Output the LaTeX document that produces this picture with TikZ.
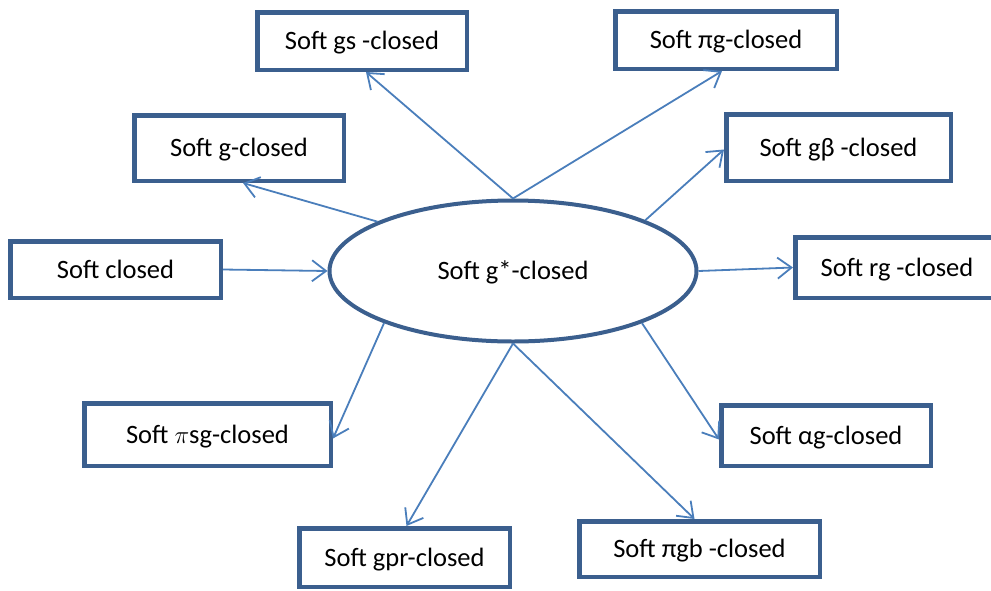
\documentclass[tikz,border=0pt]{standalone}
\usepackage{fontspec}
\setmainfont{Carlito}
\usetikzlibrary{arrows.meta,shapes.geometric}
\definecolor{boxblue}{HTML}{3B5F8E}
\definecolor{arrblue}{HTML}{4A7EBB}
\tikzset{
  bx/.style 2 args={draw=boxblue, line width=4.5pt, fill=white, inner sep=0pt,
    minimum width=#1, minimum height=#2, font=\fontsize{26.5}{30}\selectfont,
    text height=21pt, text depth=4pt},
  ell/.style={ellipse, draw=boxblue, line width=4pt, fill=white, inner sep=0pt,
    minimum width=367pt, minimum height=141pt, font=\fontsize{26.5}{30}\selectfont,
    text height=21pt, text depth=4pt},
  arr/.style={draw=arrblue, line width=1.8pt, -{Straight Barb[length=14pt,width=21pt,line width=1.8pt]}}
}
\begin{document}
\begin{tikzpicture}[x=1pt,y=-1pt]
\useasboundingbox (0,0) rectangle (991,590);
\node[ell] (c) at (513,271) {Soft g*-closed};
\node[bx={209.5pt}{57.5pt}] (gs) at (362,41) {Soft gs -closed};
\node[bx={221.5pt}{57.5pt}] (pig) at (726,40) {Soft πg-closed};
\node[bx={224.5pt}{66.5pt}] (gb) at (838.5,147.5) {Soft gβ -closed};
\node[bx={209.5pt}{65.5pt}] (g) at (239,148) {Soft g-closed};
\node[bx={210.5pt}{56.5pt}] (cl) at (115.5,269.5) {Soft closed};
\node[bx={203.5pt}{60.5pt}] (rg) at (897,267.5) {Soft rg -closed};
\node[bx={209.5pt}{60.5pt}] (ag) at (826,435.5) {Soft αg-closed};
\node[bx={246.5pt}{62.5pt}] (psg) at (207.5,434.5) {Soft $\pi$sg-closed};
\node[bx={210.5pt}{58.5pt}] (gpr) at (404.5,557.5) {Soft gpr-closed};
\node[bx={240.5pt}{55.5pt}] (pgb) at (699.5,549) {Soft πgb -closed};
\draw[arr] (c.north) -- ([xshift=4pt]gs.south);
\draw[arr] (c.north) -- ([xshift=-4pt]pig.south);
\draw[arr] (c.21) -- ([yshift=-2pt]gb.west);
\draw[arr] (c.160) -- ([xshift=4pt]g.south);
\draw[arr] (cl.east) -- (c.west);
\draw[arr] (c.east) -- (rg.west);
\draw[arr] (c.-22) -- ([yshift=-4pt]ag.west);
\draw[arr] (c.202) -- ([yshift=-4pt]psg.east);
\draw[arr] (c.south) -- ([xshift=2pt]gpr.north);
\draw[arr] (c.south) -- ([xshift=-5pt]pgb.north);
\end{tikzpicture}
\end{document}
